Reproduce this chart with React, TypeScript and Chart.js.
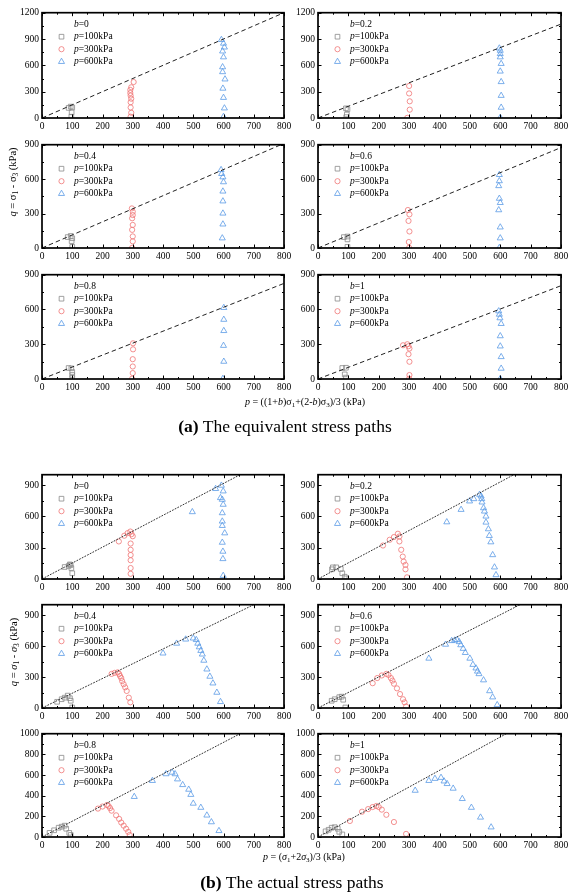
import React, { useEffect, useRef } from "react";
import { Chart, registerables } from "chart.js";
Chart.register(...registerables);

const SERIF = '"Liberation Serif", "Times New Roman", serif';
const GRAY = "#8a8a8a";
const RED = "#f07575";
const BLUE = "#5a9be6";

const X_TICKS = [0, 100, 200, 300, 400, 500, 600, 700, 800];
const Y_TICKS_1200 = [0, 300, 600, 900, 1200];
const Y_TICKS_900 = [0, 300, 600, 900];
const Y_TICKS_1000 = [0, 200, 400, 600, 800, 1000];

// (a) equivalent stress paths
const a0_p100 = [[88, 115], [95, 130], [100, 120], [98, 65], [97, 15]];
const a0_p300 = [[303, 410], [295, 350], [292, 320], [292, 285], [293, 255], [295, 220], [293, 180], [293, 120], [295, 60], [293, 15]];
const a0_p600 = [[593, 892], [600, 850], [603, 806], [597, 761], [600, 694], [597, 581], [597, 525], [605, 442], [598, 337], [600, 232], [603, 112], [600, 15]];
const a0_line = [[0, 0], [800, 1200]];

const a2_p100 = [[92, 110], [97, 100], [95, 40], [93, 10]];
const a2_p300 = [[300, 365], [300, 280], [302, 190], [302, 95], [294, 2]];
const a2_p600 = [[597, 795], [600, 769], [600, 731], [600, 694], [603, 619], [600, 532], [603, 412], [603, 255], [603, 120], [600, 5]];
const a2_line = [[0, 0], [800, 1070]];

const a4_p100 = [[85, 95], [95, 105], [100, 85], [98, 60], [100, 10]];
const a4_p300 = [[297, 345], [300, 316], [300, 287], [298, 259], [300, 201], [298, 158], [300, 101], [300, 58], [298, 2]];
const a4_p600 = [[592, 681], [594, 647], [598, 618], [600, 575], [598, 494], [598, 408], [598, 302], [598, 207], [596, 86]];
const a4_line = [[0, 0], [790, 900]];

const a6_p100 = [[85, 95], [97, 100], [97, 75], [97, 10]];
const a6_p300 = [[296, 331], [301, 293], [298, 236], [301, 144], [299, 52], [300, 2]];
const a6_p600 = [[597, 638], [597, 584], [595, 541], [597, 431], [600, 394], [595, 331], [600, 181], [600, 86], [597, 2]];
const a6_line = [[0, 0], [800, 875]];

const a8_p100 = [[88, 95], [97, 92], [100, 60], [100, 35], [100, 10]];
const a8_p300 = [[301, 308], [301, 256], [300, 171], [300, 108], [300, 51], [298, 3]];
const a8_p600 = [[601, 615], [601, 513], [601, 416], [600, 288], [601, 151], [598, 3]];
const a8_line = [[0, 0], [800, 825]];

const a10_p100 = [[80, 95], [92, 97], [88, 40], [92, 12]];
const a10_p300 = [[280, 291], [294, 300], [298, 283], [301, 263], [298, 214], [301, 149], [301, 34], [300, 2]];
const a10_p600 = [[595, 586], [597, 557], [599, 526], [603, 477], [600, 371], [600, 283], [603, 191], [603, 91], [600, 2]];
const a10_line = [[0, 0], [800, 805]];

// (b) actual stress paths
const b0_p100 = [[75, 115], [88, 125], [95, 135], [97, 105], [100, 55], [92, 140]];
const b0_p300 = [[254, 360], [272, 415], [283, 440], [292, 455], [300, 410], [296, 430], [293, 340], [293, 280], [293, 230], [293, 180], [293, 105], [293, 50]];
const b0_p600 = [[497, 643], [574, 865], [593, 897], [599, 842], [590, 778], [596, 762], [599, 714], [596, 633], [596, 553], [596, 511], [604, 440], [596, 350], [598, 264], [598, 193], [599, 32]];
const b0_line = [[0, 0], [655, 1000]];

const b2_p100 = [[46, 93], [49, 112], [60, 112], [75, 96], [80, 55], [88, 22], [93, 6]];
const b2_p300 = [[214, 321], [236, 376], [250, 402], [263, 434], [268, 408], [268, 360], [274, 280], [279, 215], [282, 167], [288, 135], [288, 93], [293, 16]];
const b2_p600 = [[424, 546], [471, 665], [499, 746], [513, 768], [532, 810], [537, 794], [539, 768], [540, 736], [545, 681], [548, 649], [553, 601], [553, 543], [561, 479], [564, 415], [569, 354], [575, 231], [581, 113], [586, 39]];
const b2_line = [[0, 0], [645, 1000]];

const b4_p100 = [[50, 60], [65, 85], [75, 100], [85, 120], [92, 95], [95, 70], [100, 5]];
const b4_p300 = [[230, 330], [240, 340], [250, 345], [255, 330], [258, 310], [262, 290], [265, 260], [270, 230], [275, 200], [280, 165], [287, 100], [292, 55]];
const b4_p600 = [[400, 530], [445, 625], [475, 665], [500, 675], [510, 660], [515, 625], [520, 590], [525, 555], [530, 520], [535, 460], [545, 375], [555, 305], [565, 240], [578, 150], [590, 60]];
const b4_line = [[0, 0], [700, 1000]];

const b6_p100 = [[45, 70], [55, 85], [70, 105], [78, 110], [83, 80], [90, 5]];
const b6_p300 = [[180, 240], [195, 290], [210, 315], [225, 330], [232, 320], [240, 290], [245, 265], [250, 235], [260, 190], [270, 135], [280, 85], [285, 55], [290, 15]];
const b6_p600 = [[365, 480], [420, 615], [440, 650], [450, 655], [458, 660], [465, 640], [470, 610], [478, 575], [485, 535], [500, 480], [510, 420], [520, 385], [525, 355], [530, 330], [545, 270], [565, 165], [575, 105], [590, 30]];
const b6_line = [[0, 0], [665, 1000]];

const b8_p100 = [[25, 40], [40, 65], [55, 90], [65, 100], [75, 110], [80, 80], [90, 40], [95, 20]];
const b8_p300 = [[185, 275], [200, 295], [215, 310], [220, 300], [225, 280], [230, 255], [245, 210], [255, 175], [262, 140], [270, 110], [278, 80], [285, 50], [290, 20]];
const b8_p600 = [[305, 390], [365, 545], [410, 610], [430, 625], [440, 610], [448, 560], [465, 505], [485, 460], [492, 410], [500, 325], [525, 285], [545, 210], [560, 145], [585, 60]];
const b8_line = [[0, 0], [655, 1000]];

const b10_p100 = [[25, 55], [35, 70], [45, 90], [55, 95], [65, 80], [70, 50], [80, 25]];
const b10_p300 = [[105, 155], [145, 245], [165, 270], [180, 290], [192, 300], [200, 290], [210, 265], [225, 215], [250, 145], [290, 30]];
const b10_p600 = [[320, 450], [365, 545], [385, 565], [405, 575], [415, 540], [425, 515], [445, 470], [475, 370], [505, 285], [535, 190], [570, 95]];
const b10_line = [[0, 0], [620, 1000]];

type Panel = {
  b: string;
  L: number; T: number; R: number; B: number;
  yMax: number; yTicks: number[]; yMinor: number;
  p100: number[][]; p300: number[][]; p600: number[][];
  line: number[][]; dash: number[]; lineColor: string;
};

const COL_L = [42, 318];
const COL_R = [284, 561];
const ROWS_A = [[12, 118], [144, 248], [274, 379]];
const ROWS_B = [[474, 579], [604, 708], [733, 837]];
const DASH_A = [4.5, 3];
const DASH_B = [1.8, 1.2];

function mk(b: string, col: number, row: number[], yMax: number, yTicks: number[], yMinor: number,
  p100: number[][], p300: number[][], p600: number[][], line: number[][], dash: number[], lineColor: string): Panel {
  return { b, L: COL_L[col], R: COL_R[col], T: row[0], B: row[1], yMax, yTicks, yMinor, p100, p300, p600, line, dash, lineColor };
}

const PANELS: Panel[] = [
  mk("0", 0, ROWS_A[0], 1200, Y_TICKS_1200, 150, a0_p100, a0_p300, a0_p600, a0_line, DASH_A, "#222"),
  mk("0.2", 1, ROWS_A[0], 1200, Y_TICKS_1200, 150, a2_p100, a2_p300, a2_p600, a2_line, DASH_A, "#222"),
  mk("0.4", 0, ROWS_A[1], 900, Y_TICKS_900, 150, a4_p100, a4_p300, a4_p600, a4_line, DASH_A, "#222"),
  mk("0.6", 1, ROWS_A[1], 900, Y_TICKS_900, 150, a6_p100, a6_p300, a6_p600, a6_line, DASH_A, "#222"),
  mk("0.8", 0, ROWS_A[2], 900, Y_TICKS_900, 150, a8_p100, a8_p300, a8_p600, a8_line, DASH_A, "#222"),
  mk("1", 1, ROWS_A[2], 900, Y_TICKS_900, 150, a10_p100, a10_p300, a10_p600, a10_line, DASH_A, "#222"),
  mk("0", 0, ROWS_B[0], 1000, Y_TICKS_900, 150, b0_p100, b0_p300, b0_p600, b0_line, DASH_B, "#333"),
  mk("0.2", 1, ROWS_B[0], 1000, Y_TICKS_900, 150, b2_p100, b2_p300, b2_p600, b2_line, DASH_B, "#333"),
  mk("0.4", 0, ROWS_B[1], 1000, Y_TICKS_900, 150, b4_p100, b4_p300, b4_p600, b4_line, DASH_B, "#333"),
  mk("0.6", 1, ROWS_B[1], 1000, Y_TICKS_900, 150, b6_p100, b6_p300, b6_p600, b6_line, DASH_B, "#333"),
  mk("0.8", 0, ROWS_B[2], 1000, Y_TICKS_1000, 100, b8_p100, b8_p300, b8_p600, b8_line, DASH_B, "#333"),
  mk("1", 1, ROWS_B[2], 1000, Y_TICKS_1000, 100, b10_p100, b10_p300, b10_p600, b10_line, DASH_B, "#333"),
];

const PAD_L = 40, PAD_T = 8, PAD_R = 14, PAD_B = 22;
const YAXIS_W = 36, XAXIS_H = 20;

function toXY(arr: number[][]) {
  return arr.map((p) => ({ x: p[0], y: p[1] }));
}

function drawMarker(ctx: CanvasRenderingContext2D, kind: string, x: number, y: number, color: string) {
  ctx.save();
  ctx.strokeStyle = color;
  ctx.lineWidth = 0.8;
  ctx.beginPath();
  if (kind === "rect") {
    const s = 3.3 * Math.SQRT1_2;
    ctx.rect(x - s, y - s, 2 * s, 2 * s);
  } else if (kind === "circle") {
    ctx.arc(x, y, 2.6, 0, Math.PI * 2);
  } else {
    const r = 3.5;
    let a = 0;
    ctx.moveTo(x + Math.sin(a) * r, y - Math.cos(a) * r);
    a += (2 * Math.PI) / 3;
    ctx.lineTo(x + Math.sin(a) * r, y - Math.cos(a) * r);
    a += (2 * Math.PI) / 3;
    ctx.lineTo(x + Math.sin(a) * r, y - Math.cos(a) * r);
    ctx.closePath();
  }
  ctx.stroke();
  ctx.restore();
}

function drawRich(ctx: CanvasRenderingContext2D, parts: [string, boolean][], x: number, y: number, size: number) {
  let cx = x;
  for (const [t, it] of parts) {
    ctx.font = `${it ? "italic " : ""}${size}px ${SERIF}`;
    ctx.fillText(t, cx, y);
    cx += ctx.measureText(t).width;
  }
}

function makePlugin(panel: Panel) {
  return {
    id: "frameLegend",
    afterDatasetsDraw(chart: any) {
      const ctx: CanvasRenderingContext2D = chart.ctx;
      const a = chart.chartArea;
      const xs = chart.scales.x;
      const ys = chart.scales.y;
      ctx.save();
      ctx.strokeStyle = "#000";
      // ticks
      ctx.lineWidth = 1;
      ctx.beginPath();
      for (let v = 0; v <= 800; v += 50) {
        const px = Math.round(xs.getPixelForValue(v)) + 0.5;
        const len = v % 100 === 0 ? 3.5 : 2;
        ctx.moveTo(px, a.bottom);
        ctx.lineTo(px, a.bottom - len);
        ctx.moveTo(px, a.top);
        ctx.lineTo(px, a.top + len);
      }
      const major = panel.yTicks[1] - panel.yTicks[0];
      for (let v = 0; v <= panel.yMax + 0.001; v += panel.yMinor) {
        const py = Math.round(ys.getPixelForValue(v)) + 0.5;
        const len = Math.abs(v % major) < 0.001 ? 3.5 : 2;
        ctx.moveTo(a.left, py);
        ctx.lineTo(a.left + len, py);
        ctx.moveTo(a.right, py);
        ctx.lineTo(a.right - len, py);
      }
      ctx.stroke();
      // frame
      ctx.lineWidth = 1.7;
      ctx.strokeRect(a.left, a.top, a.right - a.left, a.bottom - a.top);
      // legend
      ctx.fillStyle = "#000";
      ctx.textBaseline = "middle";
      ctx.textAlign = "left";
      const tx = a.left + 32;
      const mx = a.left + 19.5;
      drawRich(ctx, [["b", true], ["=" + panel.b, false]], tx, a.top + 11.5, 9.5);
      const rows: [string, string, string][] = [
        ["rect", GRAY, "100"],
        ["circle", RED, "300"],
        ["triangle", BLUE, "600"],
      ];
      rows.forEach((r, i) => {
        const y = a.top + 24 + i * 12.5;
        drawMarker(ctx, r[0], mx, y, r[1]);
        ctx.fillStyle = "#000";
        drawRich(ctx, [["p", true], ["=" + r[2] + "kPa", false]], tx, y, 9.5);
      });
      ctx.restore();
    },
  };
}

function PanelChart({ panel }: { panel: Panel }) {
  const ref = useRef<HTMLCanvasElement>(null);
  const w = panel.R - panel.L + PAD_L + PAD_R;
  const h = panel.B - panel.T + PAD_T + PAD_B;
  useEffect(() => {
    const canvas = ref.current;
    if (!canvas) return;
    const ptStyle = (style: string, color: string, r: number) => ({
      pointStyle: style,
      pointRadius: r,
      pointBorderWidth: 0.8,
      borderColor: color,
      pointBorderColor: color,
      backgroundColor: "rgba(0,0,0,0)",
      pointBackgroundColor: "rgba(0,0,0,0)",
      showLine: false,
    });
    const chart = new Chart(canvas, {
      type: "scatter",
      data: {
        datasets: [
          {
            data: toXY(panel.line),
            showLine: true,
            borderColor: panel.lineColor,
            borderWidth: 1,
            borderDash: panel.dash,
            pointRadius: 0,
            fill: false,
          } as any,
          { data: toXY(panel.p100), ...ptStyle("rect", GRAY, 3.3) } as any,
          { data: toXY(panel.p300), ...ptStyle("circle", RED, 2.6) } as any,
          { data: toXY(panel.p600), ...ptStyle("triangle", BLUE, 3.5) } as any,
        ],
      },
      options: {
        animation: false,
        responsive: false,
        devicePixelRatio: 1,
        events: [],
        layout: { padding: { left: PAD_L - YAXIS_W, top: PAD_T, right: PAD_R, bottom: PAD_B - XAXIS_H } },
        plugins: { legend: { display: false }, tooltip: { enabled: false } },
        scales: {
          x: {
            type: "linear",
            min: 0,
            max: 800,
            grid: { display: false, drawTicks: false },
            border: { display: false },
            ticks: {
              padding: 3,
              color: "#000",
              font: { family: SERIF, size: 9.5 },
              maxRotation: 0,
              autoSkip: false,
              callback: (v: any) => String(v),
            },
            afterBuildTicks: (s: any) => {
              s.ticks = X_TICKS.map((v) => ({ value: v }));
            },
            afterFit: (s: any) => {
              s.height = XAXIS_H;
            },
          },
          y: {
            type: "linear",
            min: 0,
            max: panel.yMax,
            grid: { display: false, drawTicks: false },
            border: { display: false },
            ticks: {
              padding: 3,
              color: "#000",
              font: { family: SERIF, size: 9.5 },
              autoSkip: false,
              callback: (v: any) => String(v),
            },
            afterBuildTicks: (s: any) => {
              s.ticks = panel.yTicks.map((v) => ({ value: v }));
            },
            afterFit: (s: any) => {
              s.width = YAXIS_W;
            },
          },
        },
      } as any,
      plugins: [makePlugin(panel)],
    });
    return () => chart.destroy();
  }, [panel]);
  return (
    <canvas
      ref={ref}
      width={w}
      height={h}
      style={{ position: "absolute", left: panel.L - PAD_L, top: panel.T - PAD_T, width: w, height: h }}
    />
  );
}

const subStyle: React.CSSProperties = { fontSize: "0.7em", verticalAlign: "-0.3em", lineHeight: 0 };

function YTitle({ cx, cy, italicSigma }: { cx: number; cy: number; italicSigma: boolean }) {
  const sig = italicSigma ? <i>σ</i> : <span>σ</span>;
  return (
    <div
      style={{
        position: "absolute",
        left: cx,
        top: cy,
        transform: "translate(-50%, -50%) rotate(-90deg)",
        whiteSpace: "nowrap",
        fontFamily: SERIF,
        fontSize: 10.5,
        lineHeight: "12px",
        color: "#000",
      }}
    >
      <i>q</i> = {sig}<sub style={subStyle}>1</sub> - {sig}<sub style={subStyle}>3</sub> (kPa)
    </div>
  );
}

function CenterText({ cx, cy, size, children }: { cx: number; cy: number; size: number; children: any }) {
  return (
    <div
      style={{
        position: "absolute",
        left: cx - 250,
        width: 500,
        top: cy - 12,
        height: 24,
        lineHeight: "24px",
        textAlign: "center",
        whiteSpace: "nowrap",
        fontFamily: SERIF,
        fontSize: size,
        color: "#000",
      }}
    >
      {children}
    </div>
  );
}

export default function App() {
  return (
    <div style={{ position: "absolute", left: 0, top: 0, width: 569, height: 894, background: "#fff", overflow: "hidden" }}>
      {PANELS.map((p, i) => (
        <PanelChart key={i} panel={p} />
      ))}
      <YTitle cx={13} cy={182} italicSigma={false} />
      <YTitle cx={14} cy={652} italicSigma={true} />
      <CenterText cx={305} cy={402} size={10}>
        <i>p</i> = ((1+<i>b</i>)σ<sub style={subStyle}>1</sub>+(2-<i>b</i>)σ<sub style={subStyle}>3</sub>)/3 (kPa)
      </CenterText>
      <CenterText cx={304} cy={857} size={10}>
        <i>p</i> = (<i>σ</i><sub style={subStyle}>1</sub>+2<i>σ</i><sub style={subStyle}>3</sub>)/3 (kPa)
      </CenterText>
      <CenterText cx={285} cy={426} size={17.5}>
        <b>(a)</b> The equivalent stress paths
      </CenterText>
      <CenterText cx={292} cy={882} size={17.5}>
        <b>(b)</b> The actual stress paths
      </CenterText>
    </div>
  );
}
